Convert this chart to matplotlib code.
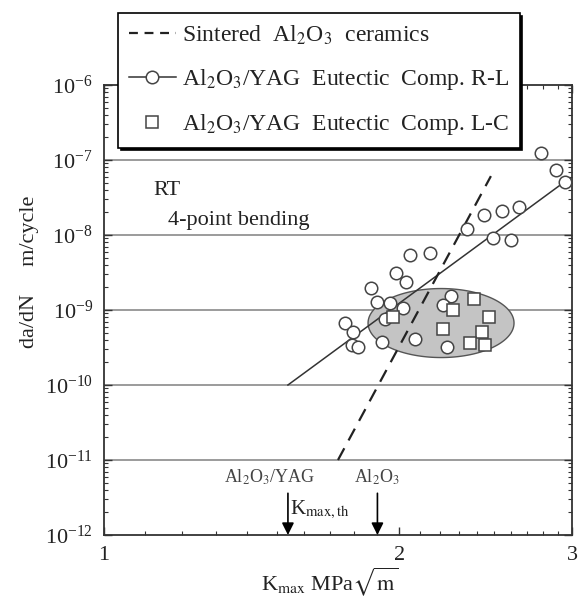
import numpy as np
import matplotlib
matplotlib.use("Agg")
import matplotlib.pyplot as plt
from matplotlib.lines import Line2D
from matplotlib.ticker import FixedLocator, FixedFormatter, LogLocator, NullFormatter

plt.rcParams['font.family'] = ['Liberation Serif', 'DejaVu Serif']
plt.rcParams['mathtext.fontset'] = 'stix'

# ---- data ----
# Al2O3/YAG eutectic, R-L (circles)
rl_k = [2.79, 2.89, 2.95, 2.65, 2.545, 2.44, 2.345, 2.49, 2.60, 2.15, 2.05,
        1.985, 2.03, 1.87, 1.90, 1.957, 2.018, 1.934, 1.761, 1.794, 1.79,
        1.815, 1.92, 2.075, 2.258, 2.216, 2.237]
rl_dadn = [1.24e-7, 7.4e-8, 5.1e-8, 2.36e-8, 2.09e-8, 1.85e-8, 1.2e-8, 9.1e-9,
           8.6e-9, 5.75e-9, 5.4e-9, 3.1e-9, 2.36e-9, 1.97e-9, 1.28e-9, 1.24e-9,
           1.06e-9, 7.6e-10, 6.7e-10, 5.1e-10, 3.4e-10, 3.2e-10, 3.7e-10,
           4.1e-10, 1.54e-9, 1.17e-9, 3.2e-10]

# Al2O3/YAG eutectic, L-C (squares)
lc_k = [1.971, 2.269, 2.384, 2.469, 2.216, 2.428, 2.361, 2.446]
lc_dadn = [8.1e-10, 1.0e-9, 1.4e-9, 8.1e-10, 5.6e-10, 5.1e-10, 3.6e-10, 3.4e-10]

# fitted lines
fit_rl_k = [1.54, 2.965]
fit_rl_dadn = [1.0e-10, 5.4e-8]
sint_k = [1.732, 2.48]
sint_dadn = [1.0e-11, 6.1e-8]

# thresholds
kth_yag = 1.54
kth_al2o3 = 1.90

# shaded L-C region (centre, half widths in decades)
ell_k, ell_dadn = 2.206, 6.7e-10
ell_wx, ell_wy = 0.0744, 0.46

########################
fs = 16
txtc = '#222222'
########################

fig = plt.figure(figsize=(5.78, 6.10), dpi=100)
ax = fig.add_axes([104 / 578, 75 / 610, 468 / 578, 450 / 610])
ax.set_xscale('log')
ax.set_yscale('log')
ax.set_xlim(1, 3)
ax.set_ylim(1e-12, 1e-6)

for e in range(-11, -6):
    ax.axhline(10.0 ** e, color='#8a8a8a', lw=1.2, zorder=0)

t = np.linspace(0, 2 * np.pi, 300)
ex = 10 ** (np.log10(ell_k) + ell_wx * np.cos(t))
ey = 10 ** (np.log10(ell_dadn) + ell_wy * np.sin(t))
ax.fill(ex, ey, facecolor='#c4c4c4', edgecolor='#555555', lw=1.0, zorder=1)

ax.plot(fit_rl_k, fit_rl_dadn, color='#333333', lw=1.1, zorder=2)
ax.plot(sint_k, sint_dadn, color='#222222', lw=1.6, ls=(0, (6, 4)), zorder=2)

ax.plot(rl_k, rl_dadn, ls='none', marker='o', ms=9, mfc='white',
        mec='#444444', mew=1.1, zorder=3)
ax.plot(lc_k, lc_dadn, ls='none', marker='s', ms=8.5, mfc='white',
        mec='#444444', mew=1.1, zorder=4)

# threshold arrows
for kk, lab in [(kth_yag, r'Al$_2$O$_3$/YAG'), (kth_al2o3, r'Al$_2$O$_3$')]:
    ax.annotate('', xy=(kk, 1e-12), xytext=(kk, 3.6e-12),
                arrowprops=dict(arrowstyle='-|>', color='black', lw=1.2,
                                mutation_scale=18, shrinkA=0, shrinkB=0))
    xl = 1.476 if kk == kth_yag else kk
    ax.text(xl, 5.0e-12, lab, fontsize=13, color='#444444',
            ha='center', va='baseline')
ax.text(1.548, 1.9e-12, r'K$_{\rm max,th}$', fontsize=15, color=txtc,
        ha='left', va='baseline')

ax.text(1.122, 3.9e-8, 'RT', fontsize=16, color=txtc, va='center')
ax.text(1.162, 1.58e-8, '4-point bending', fontsize=16, color=txtc, va='center')

# ticks
ax.xaxis.set_major_locator(FixedLocator([1, 2, 3]))
ax.xaxis.set_major_formatter(FixedFormatter(['1', '2', '3']))
ax.xaxis.set_minor_locator(FixedLocator(np.arange(1.1, 3.0, 0.1)))
ax.xaxis.set_minor_formatter(NullFormatter())
ax.yaxis.set_major_locator(LogLocator(base=10, numticks=20))
ax.yaxis.set_minor_locator(LogLocator(base=10, subs=np.arange(2, 10), numticks=20))
ax.yaxis.set_minor_formatter(NullFormatter())
ax.tick_params(which='both', direction='in', top=True, right=True,
               labelsize=fs, labelcolor=txtc, color='#333333')
ax.tick_params(which='major', length=6, width=1.0, pad=8)
ax.tick_params(which='minor', length=3, width=0.8)
for sp in ax.spines.values():
    sp.set_linewidth(1.3)
    sp.set_color('#333333')

fig.text(30 / 578, 1 - 272 / 610, 'da/dN     m/cycle', rotation=90,
         fontsize=fs, color=txtc, ha='center', va='center')
fig.text(330 / 578, 1 - 582 / 610, r'K$_{\rm max}$ MPa$\sqrt{\rm m}$',
         fontsize=fs, color=txtc, ha='center', va='center')

handles = [
    Line2D([], [], color='#222222', lw=1.6, ls=(0, (4, 3))),
    Line2D([], [], color='#333333', lw=1.1, marker='o', ms=9, mfc='white',
           mec='#444444', mew=1.1),
    Line2D([], [], ls='none', marker='s', ms=8.5, mfc='white',
           mec='#444444', mew=1.1),
]
labels = [r'Sintered  Al$_2$O$_3$  ceramics',
          r'Al$_2$O$_3$/YAG  Eutectic  Comp. R-L',
          r'Al$_2$O$_3$/YAG  Eutectic  Comp. L-C']
leg = ax.legend(handles, labels, loc='upper left', bbox_to_anchor=(0.03, 1.16),
                borderaxespad=0, fontsize=17, handlelength=2.0,
                handletextpad=0.25, labelspacing=0.85, borderpad=0.45,
                fancybox=False, framealpha=1, edgecolor='black',
                shadow={'color': 'black', 'alpha': 1})
leg.get_frame().set_linewidth(1.2)
for tx in leg.get_texts():
    tx.set_color(txtc)

fig.savefig('out.png', dpi=100)
